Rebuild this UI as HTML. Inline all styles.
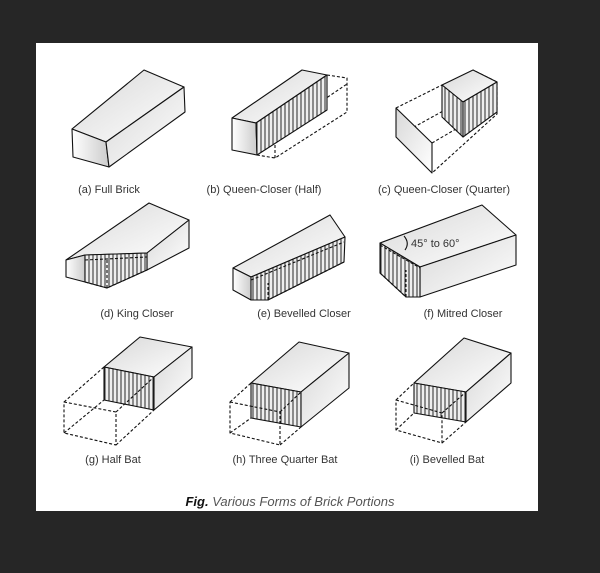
<!DOCTYPE html>
<html><head><style>
html,body{margin:0;padding:0;background:#262626;width:600px;height:573px;overflow:hidden}
svg{display:block}
text{font-family:"Liberation Sans",sans-serif;fill:#333;font-size:11px}
</style></head><body>
<svg width="600" height="573" viewBox="0 0 600 573">
<defs>
<pattern id="h" width="4" height="10" patternUnits="userSpaceOnUse">
<rect width="4" height="10" fill="#eee"/><line x1="1" y1="0" x2="1" y2="10" stroke="#111" stroke-width="0.9"/>
</pattern>
<linearGradient id="g" x1="0" y1="0" x2="1" y2="1"><stop offset="0" stop-color="#d8d8d8"/><stop offset="1" stop-color="#fff"/></linearGradient>
<linearGradient id="g2" x1="0" y1="0" x2="1" y2="0"><stop offset="0" stop-color="#fff"/><stop offset="1" stop-color="#ccc"/></linearGradient>
</defs>
<rect x="36" y="43" width="502" height="468" fill="#fff"/>
<g stroke="#111" stroke-width="1.1" stroke-linejoin="round">
<!-- a -->
<polygon points="72,129 144,70 184,87 106,142" fill="url(#g)"/>
<polygon points="72,129 106,142 109,167 73,157" fill="url(#g2)"/>
<polygon points="106,142 184,87 185,112 109,167" fill="url(#g)"/>
<!-- b -->
<g fill="none" stroke-dasharray="3,2"><polyline points="327,75 347,78 347,112 275,158 257,155"/><line x1="257" y1="145" x2="347" y2="84"/><line x1="275" y1="158" x2="275" y2="128"/></g>
<polygon points="232,118 302,70 327,75 256,123" fill="url(#g)"/>
<polygon points="232,118 256,123 257,155 232,150" fill="url(#g2)"/>
<polygon points="256,123 327,75 327,110 257,155" fill="url(#h)"/>
<!-- c -->
<g fill="none" stroke-dasharray="3,2"><polyline points="396,108 442,85"/><polyline points="463,102 497,82 473,70"/><polyline points="497,82 497,114 432,173"/><polyline points="396,137 463,100"/><line x1="432" y1="143" x2="497" y2="105"/><line x1="473" y1="70" x2="473" y2="102"/></g>
<polygon points="396,108 432,143 432,173 396,137" fill="url(#g)"/>
<polygon points="442,85 473,70 497,82 463,102" fill="url(#g)"/>
<polygon points="442,85 463,102 463,137 442,117" fill="url(#h)"/>
<polygon points="463,102 497,82 497,112 463,137" fill="url(#h)"/>
<!-- d -->
<polygon points="66,260 149,203 189,220 147,253 85,255" fill="url(#g)"/>
<polygon points="147,253 189,220 189,248 147,270" fill="url(#g)"/>
<polygon points="66,260 85,255 85,282 66,277" fill="url(#g2)"/>
<polygon points="85,255 147,253 147,270 107,288 85,282" fill="url(#h)"/>
<g fill="none" stroke-dasharray="3,2"><polyline points="85,282 107,288 147,270"/><line x1="107" y1="288" x2="107" y2="260"/><line x1="85" y1="260" x2="147" y2="257"/></g>
<!-- e -->
<polygon points="233,268 330,215 345,237 251,277" fill="url(#g)"/>
<polygon points="233,268 251,277 251,300 233,290" fill="url(#g2)"/>
<polygon points="251,277 345,237 344,262 268,300 251,300" fill="url(#h)"/>
<g fill="none" stroke-dasharray="3,2"><polyline points="251,300 268,300 344,262"/><line x1="268" y1="300" x2="268" y2="283"/><line x1="251" y1="280" x2="344" y2="242"/></g>
<!-- f -->
<polygon points="380,243 482,205 516,235 420,267" fill="url(#g)"/>
<polygon points="420,267 516,235 516,265 420,297" fill="url(#g)"/>
<polygon points="380,243 420,267 420,297 406,297 380,273" fill="url(#h)"/>
<g fill="none" stroke-dasharray="3,2"><polyline points="380,273 406,297 420,297"/><line x1="406" y1="297" x2="406" y2="270"/><line x1="380" y1="245" x2="420" y2="268"/></g>
<path d="M 404,236 Q 410,243 405,250" fill="none"/>
<!-- g -->
<polygon points="104,367 140,337 192,347 154,377" fill="url(#g)"/>
<polygon points="104,367 154,377 154,410 104,400" fill="url(#h)"/>
<polygon points="154,377 192,347 192,378 154,410" fill="url(#g)"/>
<g fill="none" stroke-dasharray="3,2"><polygon points="64,402 116,412 116,445 64,433"/><line x1="64" y1="402" x2="104" y2="367"/><line x1="116" y1="412" x2="154" y2="377"/><line x1="116" y1="445" x2="154" y2="410"/><line x1="64" y1="433" x2="104" y2="400"/></g>
<!-- h -->
<polygon points="251,383 299,342 349,353 301,392" fill="url(#g)"/>
<polygon points="251,383 301,392 301,427 251,418" fill="url(#h)"/>
<polygon points="301,392 349,353 349,388 301,427" fill="url(#g)"/>
<g fill="none" stroke-dasharray="3,2"><polygon points="230,402 280,412 280,445 230,433"/><line x1="230" y1="402" x2="251" y2="383"/><line x1="280" y1="412" x2="301" y2="392"/><line x1="280" y1="445" x2="301" y2="427"/><line x1="230" y1="433" x2="251" y2="418"/></g>
<!-- i -->
<polygon points="414,383 464,338 511,353 466,392" fill="url(#g)"/>
<polygon points="414,383 466,392 466,422 414,413" fill="url(#h)"/>
<polygon points="466,392 511,353 511,383 466,422" fill="url(#g)"/>
<g fill="none" stroke-dasharray="3,2"><polygon points="396,400 442,413 442,443 396,430"/><line x1="396" y1="400" x2="414" y2="383"/><line x1="442" y1="413" x2="466" y2="392"/><line x1="442" y1="443" x2="466" y2="422"/><line x1="396" y1="430" x2="414" y2="413"/></g>
</g>
<text x="411" y="247" style="font-size:11px">45° to 60°</text>
<g text-anchor="middle">
<text x="109" y="193">(a) Full Brick</text>
<text x="264" y="193">(b) Queen-Closer (Half)</text>
<text x="444" y="193">(c) Queen-Closer (Quarter)</text>
<text x="137" y="317">(d) King Closer</text>
<text x="304" y="317">(e) Bevelled Closer</text>
<text x="463" y="317">(f) Mitred Closer</text>
<text x="113" y="463">(g) Half Bat</text>
<text x="285" y="463">(h) Three Quarter Bat</text>
<text x="447" y="463">(i) Bevelled Bat</text>
<text x="290" y="506" style="font-size:13px;font-style:italic;fill:#555"><tspan style="font-weight:bold;fill:#111">Fig.</tspan> Various Forms of Brick Portions</text>
</g>
</svg>
</body></html>
